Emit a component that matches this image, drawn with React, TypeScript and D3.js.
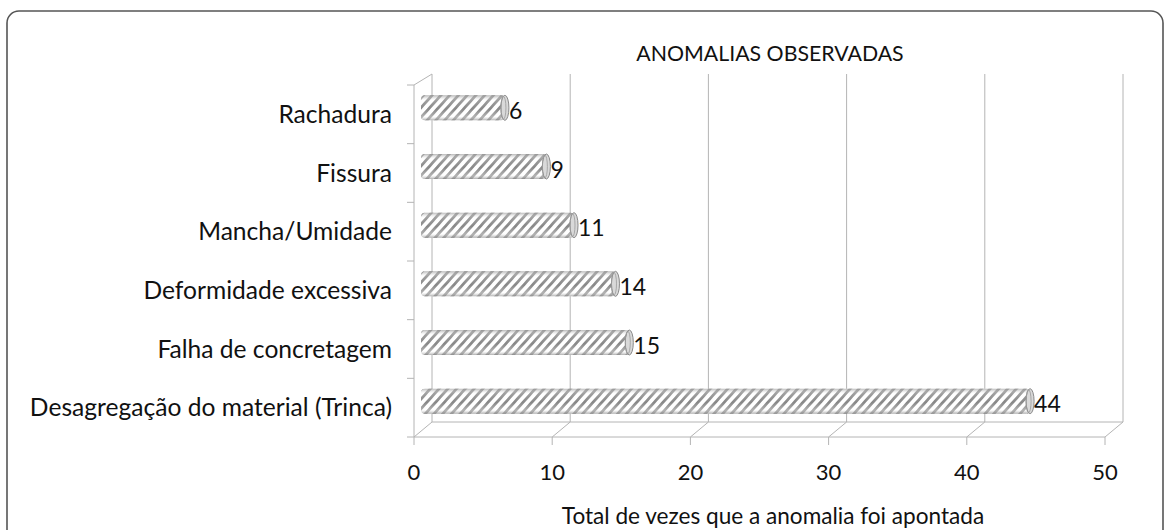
import React from "react";
import * as d3 from "d3";

const categories = [
  "Rachadura",
  "Fissura",
  "Mancha/Umidade",
  "Deformidade excessiva",
  "Falha de concretagem",
  "Desagregação do material (Trinca)",
];
const values = [6, 9, 11, 14, 15, 44];
const xTicks = [0, 10, 20, 30, 40, 50];
const title = "ANOMALIAS OBSERVADAS";
const xTitle = "Total de vezes que a anomalia foi apontada";

const W = 1165;
const H = 530;
const FONT = "Lato, 'Open Sans', sans-serif";

// front plane and back wall of the pseudo 3d plot
const front = { left: 414, right: 1105, top: 85, bottom: 437 };
const depthX = 18;
const backTop = 74;
const backBottom = 422;
const gridColor = "#b4b4b4";

const App = () => {
  const x = d3.scaleLinear().domain([0, 50]).range([front.left, front.right]);
  const y = d3
    .scaleBand()
    .domain(categories)
    .range([front.top, front.bottom])
    .padding(0);

  const barH = 25;
  const bandEdges = categories.map((c) => y(c)).concat([front.bottom]);

  return (
    <svg width={W} height={H} style={{ display: "block", position: "absolute", left: 0, top: 0 }}>
      <defs>
        <pattern id="hatch" patternUnits="userSpaceOnUse" width="6.5" height="6.5" patternTransform="rotate(42)">
          <rect width="6.5" height="6.5" fill="#fff" />
          <rect width="2.8" height="6.5" fill="#888" />
        </pattern>
        <linearGradient id="shade" x1="0" y1="0" x2="0" y2="1">
          <stop offset="0" stopColor="#9a9a9a" stopOpacity="0.7" />
          <stop offset="0.2" stopColor="#fff" stopOpacity="0.2" />
          <stop offset="0.55" stopColor="#fff" stopOpacity="0" />
          <stop offset="0.85" stopColor="#fff" stopOpacity="0.35" />
          <stop offset="1" stopColor="#8a8a8a" stopOpacity="0.7" />
        </linearGradient>
      </defs>
      <rect x={0} y={0} width={W} height={H} fill="#fff" />
      <rect x={7} y={11} width={1156} height={560} rx={12} fill="none" stroke="#555" strokeWidth={1.6} />

      {/* back wall gridlines */}
      {xTicks.map((t) => (
        <line key={"g" + t} x1={x(t) + depthX} x2={x(t) + depthX} y1={backTop} y2={backBottom} stroke={gridColor} />
      ))}
      {/* floor */}
      <line x1={front.left + depthX} x2={front.right + depthX} y1={backBottom} y2={backBottom} stroke={gridColor} />
      {xTicks.map((t) => (
        <line key={"d" + t} x1={x(t)} y1={front.bottom} x2={x(t) + depthX} y2={backBottom} stroke={gridColor} />
      ))}
      <line x1={front.left} x2={front.right} y1={front.bottom} y2={front.bottom} stroke={gridColor} />
      {xTicks.map((t) => (
        <line key={"t" + t} x1={x(t)} x2={x(t)} y1={front.bottom} y2={front.bottom + 8} stroke={gridColor} />
      ))}
      {/* left wall */}
      <line x1={front.left} x2={front.left} y1={front.top} y2={front.bottom} stroke={gridColor} />
      <line x1={front.left} y1={front.top} x2={front.left + depthX} y2={backTop} stroke={gridColor} />
      {bandEdges.map((e, i) => (
        <line key={"c" + i} x1={front.left - 7} x2={front.left} y1={e} y2={e} stroke={gridColor} />
      ))}

      {/* bars */}
      {categories.map((c, i) => {
        const cy = y(c) + y.bandwidth() / 2 - 6.5;
        const x0 = x(0) + 7;
        const x1 = x(values[i]) + 8;
        return (
          <g key={c}>
            <rect x={x0} y={cy - barH / 2} width={x1 - x0} height={barH} rx={4} fill="url(#hatch)" />
            <rect x={x0} y={cy - barH / 2} width={x1 - x0} height={barH} rx={4} fill="url(#shade)" />
            <ellipse cx={x1} cy={cy} rx={4} ry={barH / 2} fill="#d9d9d9" stroke="#8a8a8a" strokeWidth={1} />
            <ellipse cx={x1 - 1.5} cy={cy} rx={2.5} ry={barH / 2 - 1} fill="none" stroke="#9a9a9a" strokeWidth={0.8} />
            <text x={x1 + 4} y={cy + 2} dominantBaseline="central" fontFamily={FONT} fontSize={23} fill="#111">
              {values[i]}
            </text>
          </g>
        );
      })}

      {/* category labels */}
      {categories.map((c) => (
        <text key={"l" + c} x={392} y={y(c) + y.bandwidth() / 2 - 1} textAnchor="end" dominantBaseline="central" fontFamily={FONT} fontSize={24.6} fill="#111">
          {c}
        </text>
      ))}

      {/* tick labels */}
      {xTicks.map((t) => (
        <text key={"x" + t} x={x(t)} y={471} textAnchor="middle" dominantBaseline="central" fontFamily={FONT} fontSize={22} fill="#111">
          {t}
        </text>
      ))}

      <text x={770} y={53} textAnchor="middle" dominantBaseline="central" fontFamily={FONT} fontSize={21.3} fill="#111">
        {title}
      </text>
      <text x={773} y={515} textAnchor="middle" dominantBaseline="central" fontFamily={FONT} fontSize={22.6} fill="#111">
        {xTitle}
      </text>
    </svg>
  );
};

export default App;
